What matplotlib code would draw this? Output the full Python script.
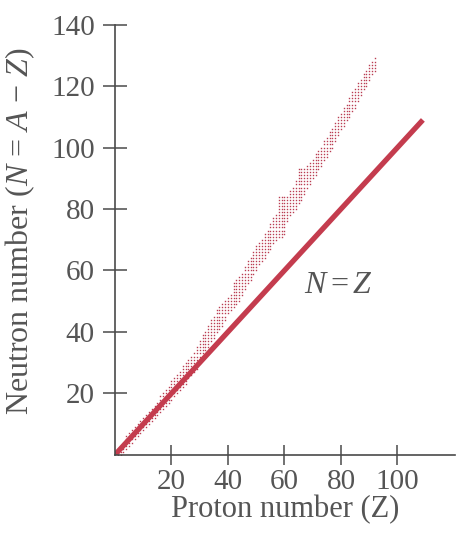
import matplotlib
matplotlib.use("Agg")
import matplotlib.pyplot as plt
import numpy as np

# Stable-nuclei band: for each proton number Z, lowest and highest neutron number N
band_z = list(range(1, 93))
band_n_low = [0, 0, 1, 2, 3, 4, 5, 6, 7, 8, 9, 10, 11, 12, 13, 14, 15, 16, 17, 18,
              19, 20, 21, 22, 23, 25, 26, 27, 28, 30, 32, 34, 35, 37, 38, 40, 41, 42, 44, 46,
              47, 48, 49, 50, 52, 54, 56, 57, 59, 60, 62, 63, 64, 66, 67, 69, 70, 71, 71, 72,
              76, 78, 79, 80, 82, 83, 85, 87, 88, 90, 91, 93, 94, 96, 97, 99, 100, 102, 104, 106,
              107, 109, 110, 112, 113, 115, 117, 119, 120, 122, 124, 125]
band_n_high = [2, 3, 4, 6, 7, 8, 9, 10, 11, 12, 13, 14, 15, 16, 17, 19, 20, 21, 22, 24,
               25, 26, 27, 29, 30, 31, 32, 33, 35, 37, 39, 40, 42, 44, 45, 47, 48, 49, 50, 51,
               52, 56, 57, 58, 59, 61, 63, 64, 66, 68, 69, 70, 72, 73, 75, 77, 78, 84, 84, 84,
               84, 86, 87, 89, 93, 93, 93, 94, 95, 96, 98, 99, 100, 102, 103, 105, 106, 108, 110, 111,
               113, 114, 116, 118, 119, 121, 122, 124, 125, 127, 128, 129]

# N = Z reference line
line_z = [0, 109]
line_n = [0, 109]

x_ticks = [20, 40, 60, 80, 100]
y_ticks = [20, 40, 60, 80, 100, 120, 140]

plt.rcParams['font.family'] = ['Liberation Serif', 'DejaVu Serif']
plt.rcParams['mathtext.fontset'] = 'custom'
plt.rcParams['mathtext.rm'] = 'Liberation Serif'
plt.rcParams['mathtext.it'] = 'Liberation Serif:italic'

red = '#c43c4e'
dot_red = '#b3283f'
grey = '#4a4a4a'
txt = '#555555'

fig = plt.figure(figsize=(4.58, 5.48), dpi=100)
ax = fig.add_axes([0.251, 0.170, 0.742, 0.785])

# band dots
pz, pn = [], []
for z, lo, hi in zip(band_z, band_n_low, band_n_high):
    for n in range(lo, hi + 1):
        pz.append(z)
        pn.append(n)
ax.plot(pz, pn, linestyle='none', marker='s', markersize=1.0,
        markeredgewidth=0, color=dot_red, alpha=0.9)

ax.plot(line_z, line_n, color=red, linewidth=3.8, solid_capstyle='butt')

ax.text(79, 55, r'$N = Z$', fontsize=23, color=txt, ha='center', va='center')

ax.set_xlim(0, 120.3)
ax.set_ylim(0, 140)
ax.set_xticks(x_ticks)
ax.set_yticks(y_ticks)
for s in ['top', 'right']:
    ax.spines[s].set_visible(False)
for s in ['left', 'bottom']:
    ax.spines[s].set_color(grey)
    ax.spines[s].set_linewidth(1.2)
ax.tick_params(axis='y', direction='inout', length=17, width=1.1, color=grey,
               labelsize=21, labelcolor=txt, pad=6)
ax.tick_params(axis='x', direction='inout', length=14, width=1.1, color=grey,
               labelsize=21, labelcolor=txt, pad=3)

ax.set_xlabel('Proton number (Z)', fontsize=22, color=txt, labelpad=0)
ax.set_ylabel(r'Neutron number ($N$ = $A$ $-$ $Z$)', fontsize=23, color=txt)
ax.yaxis.set_label_coords(-0.228, 0.52)

fig.savefig('out.png', dpi=100, facecolor='white')
